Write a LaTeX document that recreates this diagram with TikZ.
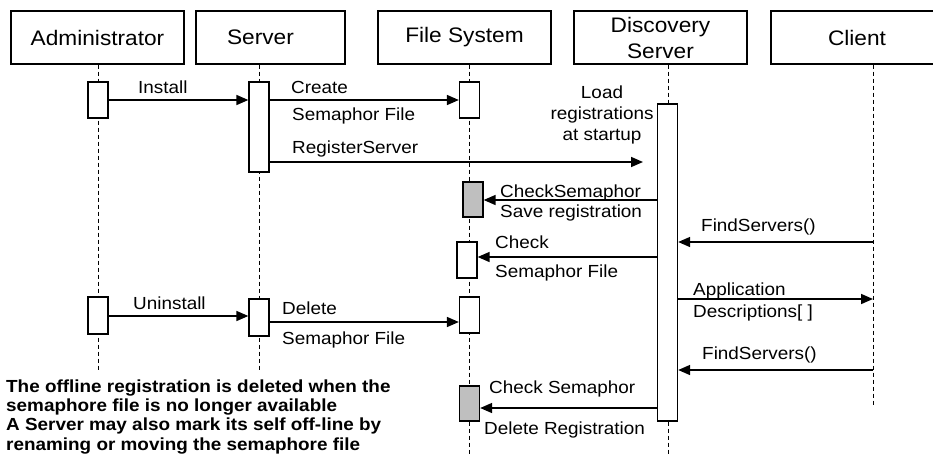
\documentclass[tikz,border=0pt]{standalone}
\usepackage{fontspec}
\setmainfont[FakeStretch=1.08]{Liberation Sans}
\usetikzlibrary{arrows.meta}

\begin{document}
\begin{tikzpicture}[x=1pt,y=-1pt,
  head/.style={draw,line width=1.2pt,inner sep=0pt,minimum height=53pt,align=center,font=\fontsize{21}{26}\selectfont},
  act/.style={draw,line width=1.3pt,fill=white,inner sep=0pt,minimum width=20pt},
  actg/.style={act,fill=black!25},
  life/.style={line width=1pt,dash pattern=on 4pt off 3pt},
  msg/.style={line width=1.6pt,-{Triangle[length=12pt,width=10pt]}},
  lbl/.style={inner sep=0pt,anchor=base west,font=\fontsize{17.5}{21}\selectfont}]
  \useasboundingbox (0,0) rectangle (933,455);
  \clip (0,0) rectangle (933,455);

  \node[head,minimum width=173pt] (hA) at (97.5,37.5) {Administrator};
  \node[head,minimum width=149pt] (hS) at (270.5,37.5) {\hspace*{-20pt}Server};
  \node[head,minimum width=173pt] (hF) at (464.5,37.5) {File System};
  \node[head,minimum width=173pt] (hD) at (660.5,37.5) {Discovery\\Server};
  \node[head,minimum width=172pt] (hC) at (857,37.5) {Client};

  \coordinate (eA) at (98,371);
  \coordinate (eS) at (259,371);
  \coordinate (eF) at (469,455);
  \coordinate (eD) at (668,455);
  \coordinate (eC) at (873,405);
  \draw[life] (hA.south -| eA) -- (eA);
  \draw[life] (hS.south -| eS) -- (eS);
  \draw[life] (hF.south -| eF) -- (eF);
  \draw[life] (hD.south -| eD) -- (eD);
  \draw[life] (hC.south -| eC) -- (eC);

  \node[act,minimum height=36pt] (adm1) at (98,100) {};
  \node[act,minimum height=90pt] (srv1) at (259,127) {};
  \node[act,minimum height=36pt] (fs1) at (469.5,100) {};
  \node[act,minimum height=317pt] (ds) at (667.5,262.5) {};
  \node[actg,minimum height=35pt] (fs2) at (473,199.5) {};
  \node[act,minimum height=36pt] (fs3) at (467,260) {};
  \node[act,minimum height=37pt] (adm2) at (98,315.5) {};
  \node[act,minimum height=37pt] (srv2) at (259,317.5) {};
  \node[act,minimum height=36pt] (fs4) at (469.5,315) {};
  \node[actg,minimum height=35pt] (fs5) at (469.5,403.5) {};

  \coordinate (rs) at (643,162);
  \draw[msg] (adm1.east |- 0,100) -- (srv1.west |- 0,100);
  \draw[msg] (srv1.east |- 0,100) -- (fs1.west |- 0,100);
  \draw[msg] (srv1.east |- rs) -- (rs);
  \draw[msg] (ds.west |- 0,200) -- (fs2.east |- 0,200);
  \draw[msg] (eC |- 0,242) -- (ds.east |- 0,242);
  \draw[msg] (ds.west |- 0,257) -- (fs3.east |- 0,257);
  \draw[msg] (ds.east |- 0,299) -- (eC |- 0,299);
  \draw[msg] (adm2.east |- 0,316) -- (srv2.west |- 0,316);
  \draw[msg] (srv2.east |- 0,322) -- (fs4.west |- 0,322);
  \draw[msg] (eC |- 0,370) -- (ds.east |- 0,370);
  \draw[msg] (ds.west |- 0,408) -- (fs5.east |- 0,408);

  \node[lbl] (tInst) at (138,93) {Install};
  \node[lbl] (tCre) at (291,93) {Create};
  \node[lbl] (tSem1) at (292,120) {Semaphor File};
  \node[lbl] (tReg) at (292,153) {RegisterServer};
  \node[lbl,anchor=center,align=center] (tLoad) at (602,114.5) {Load\\registrations\\at startup};
  \node[lbl] (tChk1) at (500,197) {CheckSemaphor};
  \node[lbl] (tSave) at (500,217) {Save registration};
  \node[lbl] (tFind1) at (701,231) {FindServers()};
  \node[lbl] (tChk2) at (495,248) {Check};
  \node[lbl] (tSem2) at (495,277) {Semaphor File};
  \node[lbl] (tApp) at (693,295) {Application};
  \node[lbl] (tDesc) at (693,317) {Descriptions[ ]};
  \node[lbl] (tUni) at (133,309) {Uninstall};
  \node[lbl] (tDel) at (282,314) {Delete};
  \node[lbl] (tSem3) at (282,344) {Semaphor File};
  \node[lbl] (tFind2) at (702,359) {FindServers()};
  \node[lbl] (tChk3) at (489,393) {Check Semaphor};
  \node[lbl] (tDelReg) at (484,434) {Delete Registration};

  \node[inner sep=0pt,anchor=north west,align=left,font=\fontsize{17.5}{19.3}\selectfont\bfseries] (note) at (6,379.5)
    {The offline registration is deleted when the\\semaphore file is no longer available\\A Server may also mark its self off-line by\\renaming or moving the semaphore file};
\end{tikzpicture}
\end{document}
